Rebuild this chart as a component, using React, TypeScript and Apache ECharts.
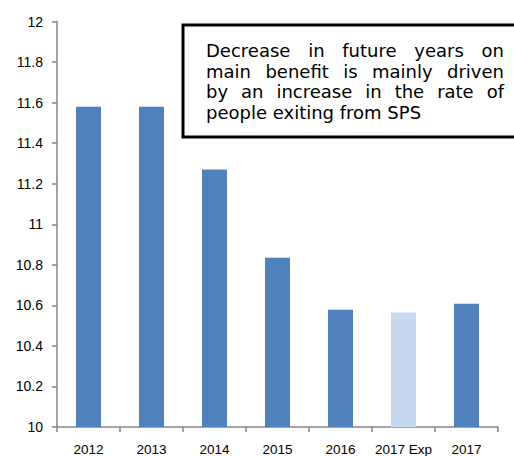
import React, { useEffect, useRef } from "react";
import * as echarts from "echarts";

const categories = ["2012", "2013", "2014", "2015", "2016", "2017 Exp", "2017"];
const values = [11.58, 11.58, 11.27, 10.835, 10.578, 10.565, 10.608];
const expectedIndex = 5;
const yTicks = { min: 10, max: 12, interval: 0.2 };
const noteLines = [
  "Decrease in future years on",
  "main benefit is mainly driven",
  "by an increase in the rate of",
  "people exiting from SPS",
];

const NOTE_FONT = '18px "DejaVu Sans"';

function measure(text: string): number {
  const c = document.createElement("canvas").getContext("2d");
  if (!c) return text.length * 9;
  c.font = NOTE_FONT;
  return c.measureText(text).width;
}

function buildNote(): any[] {
  const left = 206;
  const right = 504;
  const firstMiddle = 50.5;
  const lineStep = 20.7;
  const els: any[] = [];
  noteLines.forEach((line, i) => {
    const y = firstMiddle + i * lineStep;
    const words = line.split(" ");
    const justify = i < noteLines.length - 1 && words.length > 1;
    if (!justify) {
      els.push({
        type: "text",
        x: left,
        y,
        z: 20,
        style: { text: line, font: NOTE_FONT, fill: "#000", align: "left", verticalAlign: "middle" },
      });
      return;
    }
    const widths = words.map(measure);
    const total = widths.reduce((a, b) => a + b, 0);
    const gap = (right - left - total) / (words.length - 1);
    let x = left;
    words.forEach((w, k) => {
      els.push({
        type: "text",
        x,
        y,
        z: 20,
        style: { text: w, font: NOTE_FONT, fill: "#000", align: "left", verticalAlign: "middle" },
      });
      x += widths[k] + gap;
    });
  });
  return els;
}

export default function App() {
  const ref = useRef<HTMLDivElement>(null);
  useEffect(() => {
    if (!ref.current) return;
    const chart = echarts.init(ref.current, null, { renderer: "svg" });
    chart.setOption({
      animation: false,
      backgroundColor: "#ffffff",
      grid: { left: 57, right: 16, top: 21.5, bottom: 26, containLabel: false },
      xAxis: {
        type: "category",
        data: categories,
        axisLine: { lineStyle: { color: "#868686", width: 1.5 } },
        axisTick: { show: true, length: 5, lineStyle: { color: "#868686", width: 1.5 } },
        axisLabel: {
          color: "#000",
          fontFamily: "Liberation Sans",
          fontSize: 13.5,
          margin: 15,
          interval: 0,
        },
      },
      yAxis: {
        type: "value",
        min: yTicks.min,
        max: yTicks.max,
        interval: yTicks.interval,
        splitLine: { show: false },
        axisLine: { show: true, lineStyle: { color: "#868686", width: 1.5 } },
        axisTick: { show: true, length: 5, lineStyle: { color: "#868686", width: 1.5 } },
        axisLabel: {
          color: "#000",
          fontFamily: "Liberation Sans",
          fontSize: 14,
          margin: 14,
          formatter: (v: number) => String(Math.round(v * 10) / 10),
        },
      },
      series: [
        {
          type: "bar",
          barWidth: 25,
          data: values.map((v, i) => ({
            value: v,
            itemStyle: { color: i === expectedIndex ? "#C6D9F1" : "#4F81BD" },
          })),
        },
      ],
      graphic: [
        {
          type: "rect",
          z: 10,
          shape: { x: 183, y: 25, width: 340, height: 112 },
          style: { fill: "#ffffff", stroke: "#000000", lineWidth: 3 },
        },
        ...buildNote(),
      ],
    });
    return () => chart.dispose();
  }, []);
  return <div ref={ref} style={{ width: 514, height: 456, position: "absolute", left: 0, top: 0 }} />;
}
